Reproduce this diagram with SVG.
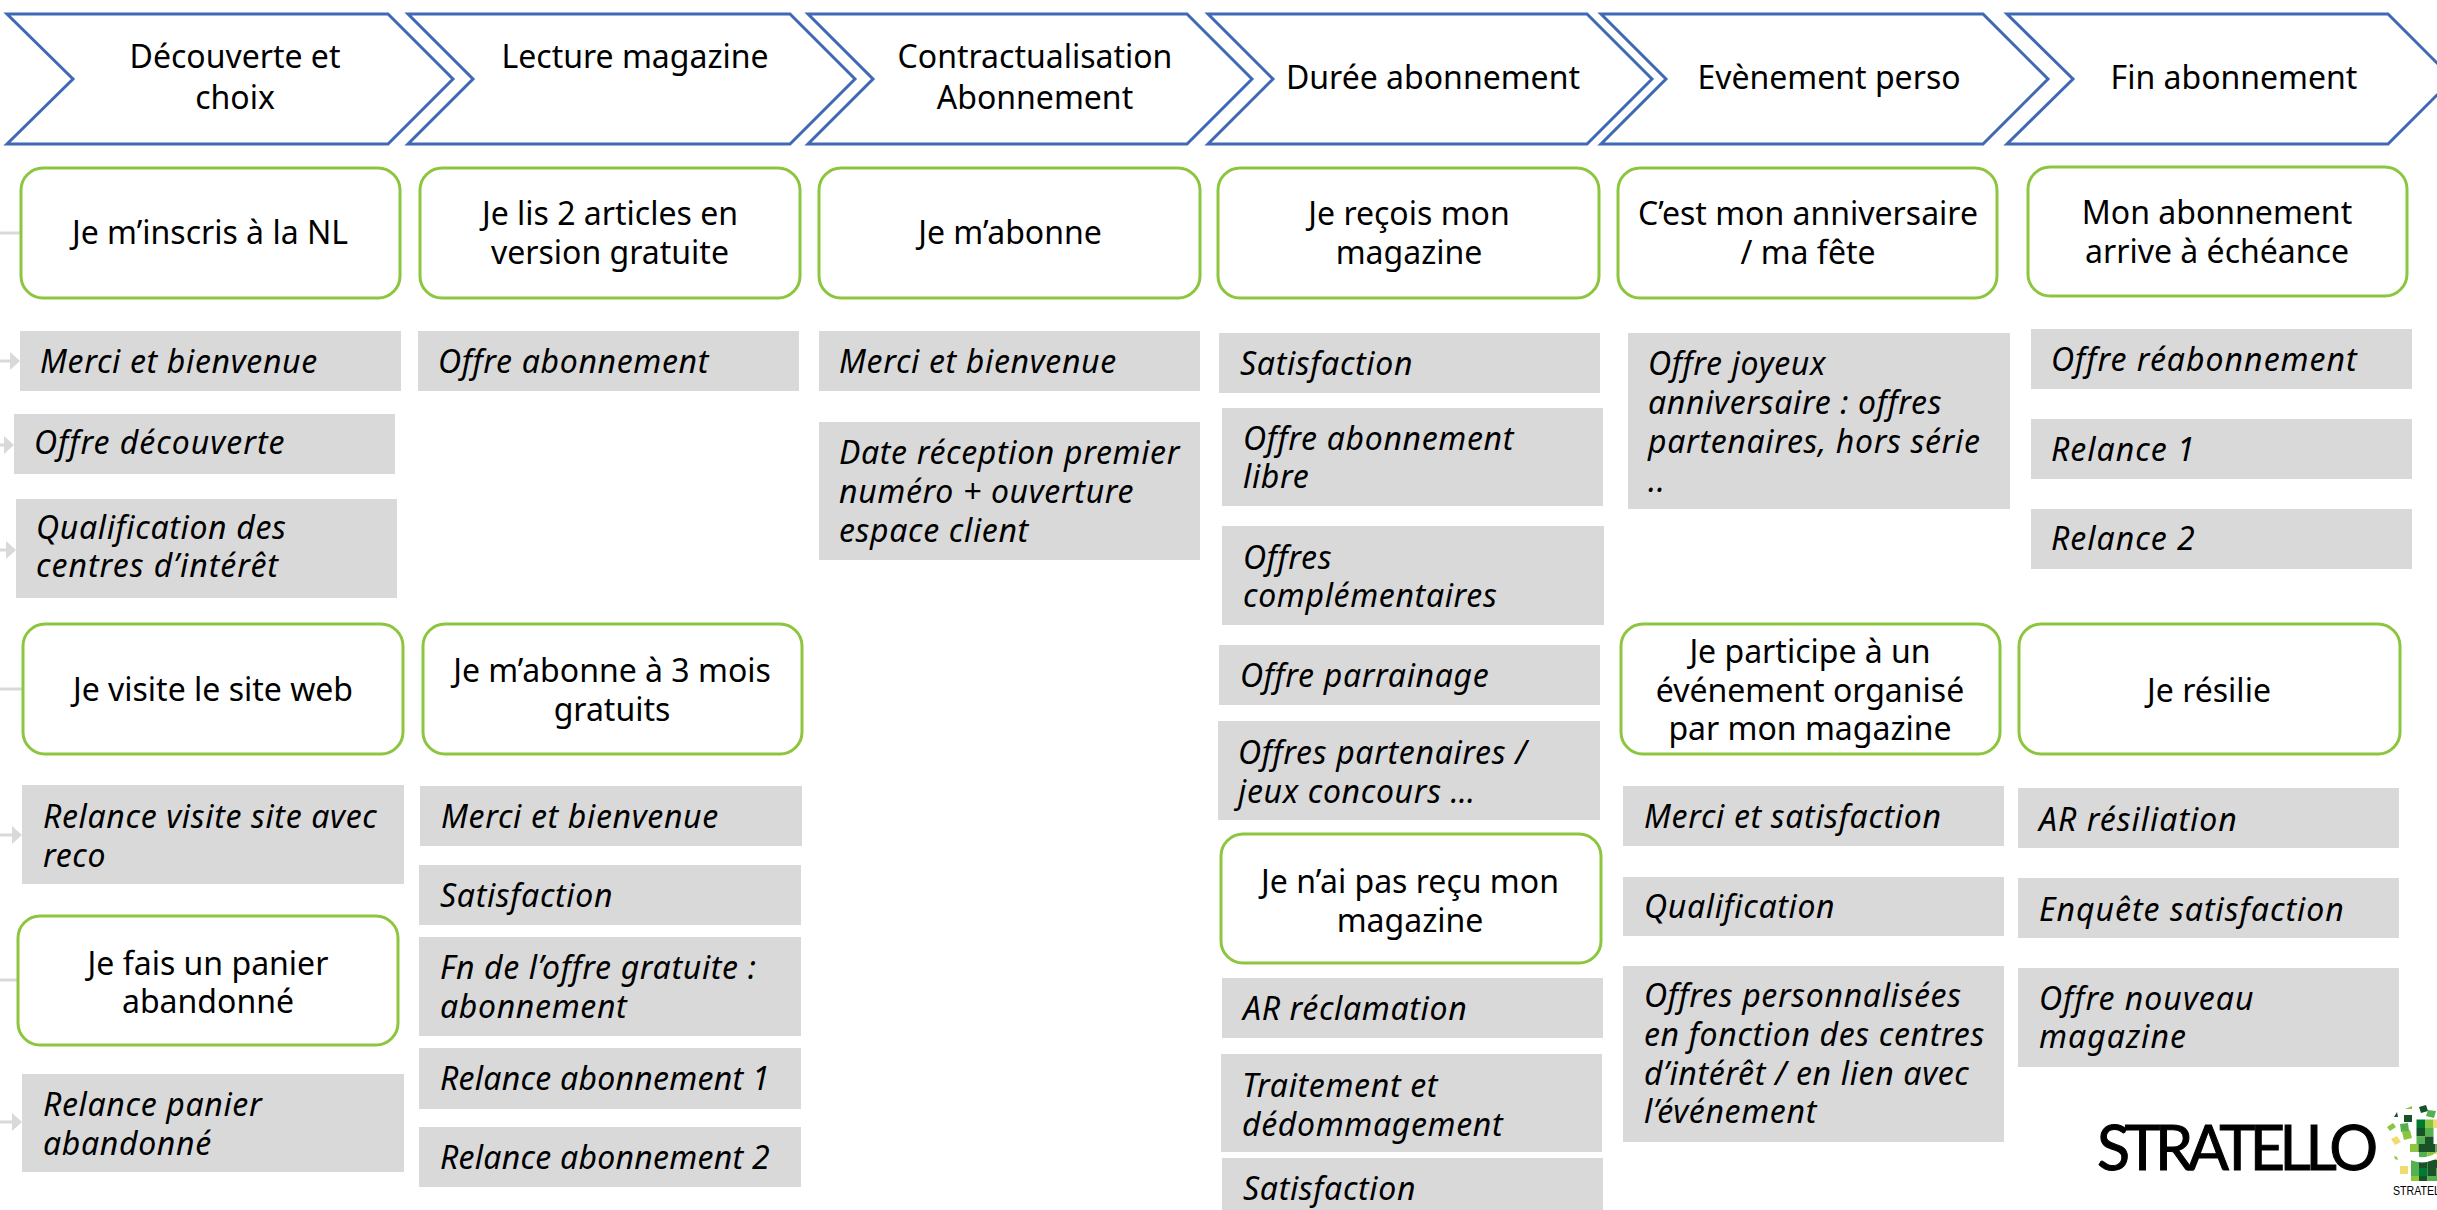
<svg xmlns="http://www.w3.org/2000/svg" width="2437" height="1210" viewBox="0 0 2437 1210">
<style>
text{font-family:"Noto Sans","DejaVu Sans",sans-serif;font-size:32px;fill:#000}
.h text,.n text{text-anchor:middle}
.c{fill:#fff;stroke:#3f69b5;stroke-width:3}
.a{fill:#fff;stroke:#8cc63f;stroke-width:3}
.g{fill:#d9d9d9}
.o text{font-style:italic;letter-spacing:.65px}
.l{stroke:#d9d9d9;stroke-width:3;fill:none}
.t{fill:#d9d9d9}
.d{fill:#1a5228}.e{fill:#007a33}.m{fill:#55b050}.f{fill:#8cc63f}.y{fill:#f0dc6e}
</style>
<rect width="2437" height="1210" fill="#fff"/>
<g id="connectors">
<path class="l" d="M0 233H21M0 689H23M0 980H18"/>
<path class="l" d="M0 361H12M0 445H6M0 550H8M0 835H14M0 1122H14"/>
<path class="t" d="M20 361l-10-9v18zM14 445l-10-9v18zM16 550l-10-9v18zM22 835l-10-9v18zM22 1122l-10-9v18z"/>
</g>
<g id="stages" class="h">
<g id="s1"><path class="c" d="M7 14H388L453 79L388 144H7L73 79Z"/><text x="235" y="68">Découverte et</text><text x="235" y="109">choix</text></g>
<g id="s2"><path class="c" d="M408 14H790L855 79L790 144H408L473 79Z"/><text x="635" y="68">Lecture magazine</text></g>
<g id="s3"><path class="c" d="M808 14H1187L1252 79L1187 144H808L873 79Z"/><text x="1035" y="68">Contractualisation</text><text x="1035" y="109">Abonnement</text></g>
<g id="s4"><path class="c" d="M1208 14H1587L1652 79L1587 144H1208L1273 79Z"/><text x="1433" y="89">Durée abonnement</text></g>
<g id="s5"><path class="c" d="M1601 14H1983L2048 79L1983 144H1601L1666 79Z"/><text x="1829" y="89">Evènement perso</text></g>
<g id="s6"><path class="c" d="M2007 14H2388L2453 79L2388 144H2007L2073 79Z"/><text x="2234" y="89">Fin abonnement</text></g>
</g>
<g class="n">
<g id="n1"><rect class="a" x="21" y="168" width="379" height="130" rx="22"/><text x="210" y="244">Je m’inscris à la NL</text></g>
<g id="n2"><rect class="a" x="420" y="168" width="380" height="130" rx="22"/><text x="610" y="225">Je lis 2 articles en</text><text x="610" y="264">version gratuite</text></g>
<g id="n3"><rect class="a" x="819" y="168" width="381" height="130" rx="22"/><text x="1010" y="244">Je m’abonne</text></g>
<g id="n4"><rect class="a" x="1218" y="168" width="381" height="130" rx="22"/><text x="1409" y="225">Je reçois mon</text><text x="1409" y="264">magazine</text></g>
<g id="n5"><rect class="a" x="1618" y="168" width="379" height="130" rx="22"/><text x="1808" y="225">C’est mon anniversaire</text><text x="1808" y="264">/ ma fête</text></g>
<g id="n6"><rect class="a" x="2028" y="167" width="379" height="129" rx="22"/><text x="2217" y="224">Mon abonnement</text><text x="2217" y="263">arrive à échéance</text></g>
<g id="n7"><rect class="a" x="23" y="624" width="380" height="130" rx="22"/><text x="213" y="701">Je visite le site web</text></g>
<g id="n8"><rect class="a" x="423" y="624" width="379" height="130" rx="22"/><text x="612" y="682">Je m’abonne à 3 mois</text><text x="612" y="721">gratuits</text></g>
<g id="n9"><rect class="a" x="18" y="916" width="380" height="129" rx="22"/><text x="208" y="975">Je fais un panier</text><text x="208" y="1013">abandonné</text></g>
<g id="n10"><rect class="a" x="1221" y="834" width="380" height="129" rx="22"/><text x="1410" y="893">Je n’ai pas reçu mon</text><text x="1410" y="932">magazine</text></g>
<g id="n11"><rect class="a" x="1621" y="624" width="379" height="130" rx="22"/><text x="1810" y="663">Je participe à un</text><text x="1810" y="702">événement organisé</text><text x="1810" y="740">par mon magazine</text></g>
<g id="n12"><rect class="a" x="2019" y="624" width="381" height="130" rx="22"/><text x="2209" y="702">Je résilie</text></g>
</g>
<g class="o">
<g id="o1"><rect class="g" x="20" y="331" width="381" height="60"/><text x="40" y="373">Merci et bienvenue</text></g>
<g id="o2"><rect class="g" x="14" y="414" width="381" height="60"/><text x="34" y="454" style="letter-spacing:1px">Offre découverte</text></g>
<g id="o3"><rect class="g" x="16" y="499" width="381" height="99"/><text x="36" y="539">Qualification des</text><text x="36" y="577" style="letter-spacing:1px">centres d’intérêt</text></g>
<g id="o4"><rect class="g" x="418" y="331" width="381" height="60"/><text x="438" y="373">Offre abonnement</text></g>
<g id="o25"><rect class="g" x="22" y="785" width="382" height="99"/><text x="43" y="828">Relance visite site avec</text><text x="43" y="867">reco</text></g>
<g id="o26"><rect class="g" x="22" y="1074" width="382" height="98"/><text x="43" y="1116">Relance panier</text><text x="43" y="1155">abandonné</text></g>
<g id="o27"><rect class="g" x="420" y="786" width="382" height="60"/><text x="441" y="828">Merci et bienvenue</text></g>
<g id="o28"><rect class="g" x="419" y="865" width="382" height="60"/><text x="440" y="907">Satisfaction</text></g>
<g id="o29"><rect class="g" x="419" y="937" width="382" height="99"/><text x="440" y="979">Fn de l’offre gratuite :</text><text x="440" y="1018">abonnement</text></g>
<g id="o30"><rect class="g" x="419" y="1048" width="382" height="61"/><text x="440" y="1090" style="letter-spacing:.25px">Relance abonnement 1</text></g>
<g id="o31"><rect class="g" x="419" y="1127" width="382" height="60"/><text x="440" y="1169" style="letter-spacing:.25px">Relance abonnement 2</text></g>
<g id="o5"><rect class="g" x="819" y="331" width="381" height="60"/><text x="839" y="373">Merci et bienvenue</text></g>
<g id="o6"><rect class="g" x="819" y="422" width="381" height="138"/><text x="839" y="464">Date réception premier</text><text x="839" y="503">numéro + ouverture</text><text x="839" y="542">espace client</text></g>
<g id="o7"><rect class="g" x="1219" y="333" width="381" height="60"/><text x="1240" y="375">Satisfaction</text></g>
<g id="o8"><rect class="g" x="1222" y="408" width="381" height="98"/><text x="1243" y="450">Offre abonnement</text><text x="1243" y="488">libre</text></g>
<g id="o9"><rect class="g" x="1222" y="526" width="382" height="99"/><text x="1243" y="569">Offres</text><text x="1243" y="607">complémentaires</text></g>
<g id="o10"><rect class="g" x="1219" y="645" width="381" height="60"/><text x="1240" y="687">Offre parrainage</text></g>
<g id="o11"><rect class="g" x="1218" y="721" width="382" height="99"/><text x="1238" y="764">Offres partenaires /</text><text x="1238" y="803">jeux concours …</text></g>
<g id="o12"><rect class="g" x="1222" y="978" width="381" height="60"/><text x="1243" y="1020">AR réclamation</text></g>
<g id="o13"><rect class="g" x="1221" y="1054" width="381" height="98"/><text x="1242" y="1097">Traitement et</text><text x="1242" y="1136">dédommagement</text></g>
<g id="o14"><rect class="g" x="1222" y="1158" width="381" height="52"/><text x="1243" y="1200">Satisfaction</text></g>
<g id="o15"><rect class="g" x="1628" y="333" width="382" height="176"/><text x="1648" y="375">Offre joyeux</text><text x="1648" y="414">anniversaire : offres</text><text x="1648" y="453">partenaires, hors série</text><text x="1648" y="492">..</text></g>
<g id="o16"><rect class="g" x="1623" y="786" width="381" height="60"/><text x="1644" y="828">Merci et satisfaction</text></g>
<g id="o17"><rect class="g" x="1623" y="877" width="381" height="59"/><text x="1644" y="918">Qualification</text></g>
<g id="o18"><rect class="g" x="1623" y="966" width="381" height="176"/><text x="1644" y="1007">Offres personnalisées</text><text x="1644" y="1046">en fonction des centres</text><text x="1644" y="1085">d’intérêt / en lien avec</text><text x="1644" y="1123">l’événement</text></g>
<g id="o19"><rect class="g" x="2031" y="329" width="381" height="60"/><text x="2051" y="371" style="letter-spacing:1px">Offre réabonnement</text></g>
<g id="o20"><rect class="g" x="2031" y="419" width="381" height="60"/><text x="2051" y="461" style="letter-spacing:1px">Relance 1</text></g>
<g id="o21"><rect class="g" x="2031" y="509" width="381" height="60"/><text x="2051" y="550" style="letter-spacing:1px">Relance 2</text></g>
<g id="o22"><rect class="g" x="2018" y="788" width="381" height="60"/><text x="2039" y="831" style="letter-spacing:1px">AR résiliation</text></g>
<g id="o23"><rect class="g" x="2018" y="878" width="381" height="60"/><text x="2039" y="921" style="letter-spacing:1px">Enquête satisfaction</text></g>
<g id="o24"><rect class="g" x="2018" y="968" width="381" height="99"/><text x="2039" y="1010" style="letter-spacing:1px">Offre nouveau</text><text x="2039" y="1048" style="letter-spacing:1px">magazine</text></g>
</g>
<g id="logo">
<text x="2097" y="1170" textLength="281" lengthAdjust="spacing" style="font-family:'Lato','Liberation Sans',sans-serif;font-size:61px;stroke:#000;stroke-width:1">STRATELLO</text>
<path class="d" d="M2419 1107l7-2 2 6-7 2zM2404 1115h8v7h-8zM2394 1117l3-5 1 5z"/>
<path class="f" d="M2405 1109l7-3v3zM2387 1127l6-4 3 4-6 4zM2402 1132l8-2 2 8-8 2zM2394 1156l3 1 1 3-3-1z"/>
<path class="m" d="M2428 1110l8 1-2 7-8-2zM2400 1124l8-1 1 8-8 1z"/>
<path class="y" d="M2391 1139l6-3 4 6-6 3z"/>
<rect class="y" x="2400" y="1166" width="8" height="8"/>
<rect class="e" x="2416.500" y="1119.500" width="8.500" height="8.500"/>
<rect class="f" x="2425" y="1119.500" width="8.500" height="8.500"/>
<rect class="y" x="2433.500" y="1119.500" width="3.500" height="8.500"/>
<rect class="d" x="2416.500" y="1128" width="8.500" height="8.500"/>
<rect class="m" x="2425" y="1128" width="8.500" height="8.500"/>
<rect class="m" x="2416.500" y="1136.500" width="8.500" height="7.500"/>
<rect class="d" x="2425" y="1136.500" width="8.500" height="7.500"/>
<rect class="f" x="2410" y="1144" width="8.500" height="8"/>
<rect class="d" x="2418.500" y="1144" width="8.500" height="8"/>
<rect class="d" x="2427" y="1144" width="8.500" height="8"/>
<rect class="m" x="2435.500" y="1144" width="1.500" height="8"/>
<rect class="m" x="2419" y="1152" width="8.500" height="8"/>
<rect class="f" x="2427.500" y="1152" width="8.500" height="8"/>
<rect class="y" x="2436" y="1152" width="1" height="8"/>
<rect class="m" x="2411" y="1160" width="8" height="8"/>
<rect class="d" x="2419" y="1160" width="8.500" height="8"/>
<rect class="d" x="2427.500" y="1160" width="9.500" height="8"/>
<rect class="m" x="2411" y="1168" width="8" height="8"/>
<rect class="e" x="2419" y="1168" width="8.500" height="8"/>
<rect class="d" x="2427.500" y="1168" width="8.500" height="8"/>
<rect class="m" x="2436" y="1168" width="1" height="8"/>
<rect class="f" x="2411" y="1176" width="8" height="5"/>
<rect class="d" x="2419" y="1176" width="8.500" height="5"/>
<rect class="m" x="2427.500" y="1176" width="9.500" height="5"/>
<path d="M2401 1152Q2420 1166 2437 1155" fill="none" stroke="#fff" stroke-width="5"/>
<text x="2393" y="1195" style="font-family:'Liberation Sans',sans-serif;font-size:13px" textLength="47" lengthAdjust="spacingAndGlyphs">STRATEL</text>
</g>
</svg>
